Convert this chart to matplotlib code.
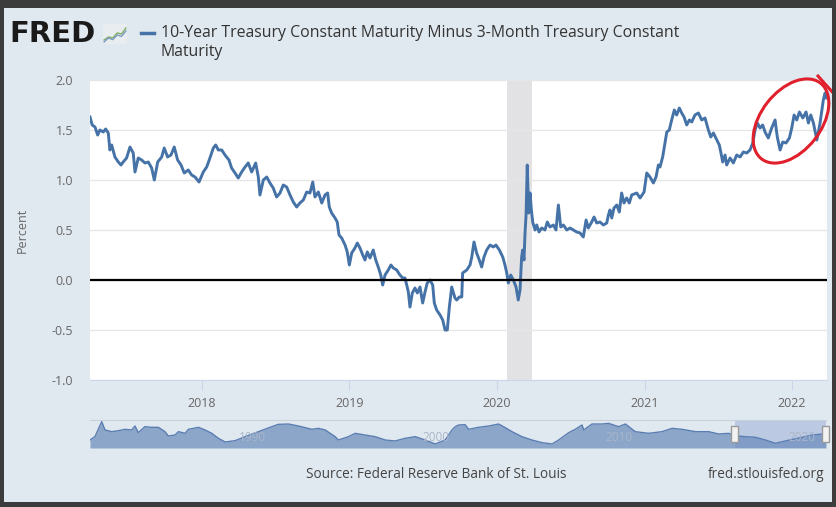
import matplotlib
matplotlib.use("Agg")
import matplotlib.pyplot as plt
from matplotlib.patches import Rectangle, Ellipse
from matplotlib.lines import Line2D
import matplotlib.transforms as mtransforms

plt.rcParams["font.family"] = ["Open Sans", "DejaVu Sans"]
plt.rcParams["axes.unicode_minus"] = False

# 10Y minus 3M spread (decimal year, percent)
years = [
    2017.241, 2017.256, 2017.275, 2017.293, 2017.308, 2017.331, 2017.347, 2017.365,
    2017.376, 2017.388, 2017.410, 2017.433, 2017.451, 2017.466, 2017.489, 2017.512,
    2017.534, 2017.546, 2017.568, 2017.591, 2017.614, 2017.636, 2017.659, 2017.677,
    2017.700, 2017.727, 2017.744, 2017.767, 2017.790, 2017.812, 2017.835, 2017.858,
    2017.880, 2017.907, 2017.930, 2017.953, 2017.980, 2018.009, 2018.032, 2018.054,
    2018.077, 2018.093, 2018.111, 2018.134, 2018.156, 2018.183, 2018.201, 2018.224,
    2018.246, 2018.269, 2018.292, 2018.314, 2018.337, 2018.364, 2018.382, 2018.393,
    2018.416, 2018.439, 2018.461, 2018.483, 2018.506, 2018.529, 2018.551, 2018.574,
    2018.597, 2018.619, 2018.642, 2018.664, 2018.687, 2018.710, 2018.732, 2018.751,
    2018.766, 2018.789, 2018.812, 2018.834, 2018.852, 2018.863, 2018.879, 2018.902,
    2018.917, 2018.929, 2018.947, 2018.970, 2018.985, 2018.999, 2019.015, 2019.037,
    2019.053, 2019.071, 2019.090, 2019.105, 2019.121, 2019.139, 2019.161, 2019.178,
    2019.195, 2019.212, 2019.225, 2019.241, 2019.263, 2019.281, 2019.297, 2019.320,
    2019.342, 2019.361, 2019.376, 2019.388, 2019.399, 2019.410, 2019.426, 2019.444,
    2019.460, 2019.478, 2019.496, 2019.512, 2019.527, 2019.546, 2019.564, 2019.575,
    2019.591, 2019.614, 2019.632, 2019.648, 2019.663, 2019.677, 2019.693, 2019.715,
    2019.727, 2019.744, 2019.761, 2019.767, 2019.795, 2019.817, 2019.829, 2019.844,
    2019.862, 2019.880, 2019.896, 2019.912, 2019.930, 2019.953, 2019.975, 2019.993,
    2020.016, 2020.039, 2020.054, 2020.066, 2020.077, 2020.093, 2020.111, 2020.129,
    2020.144, 2020.156, 2020.167, 2020.174, 2020.183, 2020.190, 2020.197, 2020.205,
    2020.215, 2020.224, 2020.233, 2020.242, 2020.258, 2020.269, 2020.285, 2020.303,
    2020.325, 2020.341, 2020.359, 2020.382, 2020.400, 2020.416, 2020.432, 2020.450,
    2020.473, 2020.495, 2020.517, 2020.540, 2020.563, 2020.585, 2020.604, 2020.619,
    2020.642, 2020.658, 2020.676, 2020.698, 2020.721, 2020.744, 2020.755, 2020.766,
    2020.778, 2020.793, 2020.812, 2020.829, 2020.845, 2020.861, 2020.879, 2020.897,
    2020.913, 2020.947, 2020.970, 2020.997, 2021.015, 2021.037, 2021.060, 2021.078,
    2021.094, 2021.105, 2021.123, 2021.139, 2021.151, 2021.168, 2021.184, 2021.202,
    2021.218, 2021.236, 2021.252, 2021.268, 2021.286, 2021.304, 2021.320, 2021.342,
    2021.365, 2021.388, 2021.410, 2021.433, 2021.449, 2021.467, 2021.490, 2021.507,
    2021.517, 2021.530, 2021.546, 2021.557, 2021.580, 2021.602, 2021.625, 2021.648,
    2021.670, 2021.693, 2021.715, 2021.734, 2021.749, 2021.765, 2021.783, 2021.801,
    2021.817, 2021.839, 2021.862, 2021.885, 2021.900, 2021.919, 2021.937, 2021.959,
    2021.982, 2021.998, 2022.014, 2022.032, 2022.050, 2022.073, 2022.095, 2022.111,
    2022.127, 2022.145, 2022.168, 2022.190, 2022.212, 2022.224, 2022.235,
]
spread = [
    1.63, 1.55, 1.53, 1.45, 1.50, 1.48, 1.51, 1.47,
    1.30, 1.35, 1.23, 1.18, 1.15, 1.18, 1.22, 1.33,
    1.27, 1.08, 1.22, 1.20, 1.17, 1.18, 1.12, 1.00,
    1.18, 1.23, 1.32, 1.23, 1.25, 1.33, 1.20, 1.15,
    1.07, 1.10, 1.05, 1.03, 0.98, 1.08, 1.13, 1.22,
    1.32, 1.35, 1.30, 1.30, 1.25, 1.20, 1.12, 1.07,
    1.02, 1.08, 1.13, 1.17, 1.08, 1.17, 1.03, 0.85,
    1.00, 1.03, 0.97, 0.92, 0.83, 0.87, 0.95, 0.93,
    0.85, 0.78, 0.73, 0.77, 0.80, 0.88, 0.87, 0.98,
    0.83, 0.88, 0.77, 0.85, 0.87, 0.73, 0.67, 0.62,
    0.58, 0.45, 0.42, 0.35, 0.28, 0.15, 0.27, 0.32,
    0.37, 0.32, 0.25, 0.20, 0.28, 0.22, 0.30, 0.20,
    0.13, 0.05, -0.05, 0.05, 0.10, 0.15, 0.12, 0.10,
    0.05, 0.02, 0.02, -0.05, -0.12, -0.27, -0.13, -0.08,
    -0.13, -0.07, -0.23, -0.12, -0.03, 0.00, -0.05, -0.23,
    -0.30, -0.35, -0.40, -0.50, -0.50, -0.27, -0.07, -0.18,
    -0.20, -0.17, -0.17, 0.07, 0.10, 0.15, 0.23, 0.38,
    0.27, 0.20, 0.13, 0.23, 0.30, 0.35, 0.33, 0.35,
    0.30, 0.23, 0.15, 0.07, -0.03, 0.05, 0.00, -0.07,
    -0.20, -0.10, 0.23, 0.30, 0.20, 0.47, 0.65, 1.15,
    0.67, 0.87, 0.70, 0.58, 0.50, 0.55, 0.48, 0.52,
    0.50, 0.58, 0.53, 0.55, 0.50, 0.75, 0.53, 0.55,
    0.50, 0.52, 0.50, 0.48, 0.47, 0.43, 0.60, 0.52,
    0.58, 0.63, 0.57, 0.58, 0.55, 0.57, 0.65, 0.70,
    0.62, 0.72, 0.75, 0.68, 0.87, 0.77, 0.82, 0.77,
    0.85, 0.87, 0.82, 0.88, 1.07, 1.03, 0.97, 1.03,
    1.15, 1.13, 1.23, 1.37, 1.48, 1.50, 1.60, 1.70,
    1.65, 1.72, 1.67, 1.63, 1.55, 1.60, 1.58, 1.65,
    1.67, 1.60, 1.62, 1.50, 1.43, 1.47, 1.40, 1.35,
    1.28, 1.18, 1.25, 1.15, 1.22, 1.17, 1.25, 1.23,
    1.28, 1.27, 1.30, 1.37, 1.50, 1.57, 1.52, 1.55,
    1.48, 1.42, 1.52, 1.60, 1.43, 1.30, 1.38, 1.37,
    1.42, 1.52, 1.65, 1.60, 1.68, 1.62, 1.68, 1.57,
    1.65, 1.57, 1.40, 1.57, 1.80, 1.87, 1.82,
]

# recession shading (2020)
recession_start = 2020.07
recession_end = 2020.24

# navigator: full history, coarse reading
nav_years = [
    1982.00, 1982.27, 1982.64, 1982.82, 1983.19, 1983.55, 1983.91, 1984.28,
    1984.46, 1984.64, 1985.00, 1985.37, 1985.74, 1986.10, 1986.28, 1986.65,
    1986.83, 1987.20, 1987.38, 1987.93, 1988.29, 1988.66, 1989.02, 1989.39,
    1989.93, 1990.48, 1991.21, 1991.94, 1992.30, 1992.85, 1993.40, 1994.13,
    1994.49, 1994.86, 1995.40, 1995.58, 1996.13, 1996.50, 1997.04, 1997.59,
    1998.14, 1998.68, 1999.23, 1999.78, 2000.33, 2000.87, 2001.42, 2001.79,
    2001.97, 2002.15, 2002.51, 2002.70, 2003.24, 2003.79, 2004.34, 2004.61,
    2005.07, 2005.61, 2006.16, 2006.71, 2007.26, 2007.62, 2008.17, 2008.53,
    2008.90, 2008.99, 2009.44, 2009.99, 2010.35, 2010.90, 2011.27, 2011.81,
    2012.54, 2013.27, 2013.82, 2014.37, 2015.10, 2015.82, 2016.37, 2016.92,
    2017.34, 2017.83, 2018.38, 2018.93, 2019.47, 2020.02, 2020.39, 2020.93,
    2021.48, 2022.03, 2022.237,
]
nav_spread = [
    0.57, 1.23, 4.17, 2.54, 2.21, 2.40, 2.67, 2.54,
    3.32, 2.01, 3.19, 3.06, 3.06, 2.21, 1.36, 1.55,
    2.21, 1.88, 2.67, 3.06, 2.54, 1.88, 0.90, 0.18,
    0.44, 1.23, 2.21, 3.19, 3.65, 3.71, 3.32, 2.67,
    2.86, 2.54, 1.23, 0.57, 1.23, 1.88, 1.55, 1.23,
    0.57, 0.38, 0.90, 1.23, 0.57, -0.21, 0.57, 2.54,
    3.19, 3.52, 3.58, 2.67, 3.06, 3.32, 3.71, 3.19,
    2.21, 1.23, 0.57, 0.05, -0.21, 0.57, 2.01, 2.67,
    3.52, 2.54, 3.71, 3.71, 3.84, 3.19, 3.71, 2.21,
    1.88, 2.21, 2.86, 2.67, 2.21, 2.21, 1.75, 1.88,
    1.36, 1.23, 1.10, 0.57, -0.08, 0.38, 0.70, 1.10,
    1.55, 1.75, 1.88,
]

x_ticks = [2018, 2019, 2020, 2021, 2022]
y_ticks = [-1.0, -0.5, 0.0, 0.5, 1.0, 1.5, 2.0]
nav_ticks = [1990, 2000, 2010, 2020]

# small logo sparkline
logo_a = [0.2, 0.35, 0.3, 0.55, 0.5, 0.8]
logo_b = [0.1, 0.3, 0.22, 0.45, 0.38, 0.65]

BG = "#e1e9f0"
BLUE = "#4572a7"
W, H = 837, 507

fig = plt.figure(figsize=(W / 100, H / 100), dpi=100, facecolor=BG)


def fx(px):
    return px / W


def fy(py):
    return 1 - py / H


# main chart
ax = fig.add_axes([fx(90), fy(380), fx(827) - fx(90), fy(80) - fy(380)])
ax.set_facecolor("white")
ax.axvspan(recession_start, recession_end, color="#e2e2e4", lw=0, zorder=0)
ax.plot(years, spread, color=BLUE, lw=2.1, zorder=3, solid_joinstyle="round")
ax.axhline(0, color="black", lw=1.6, zorder=4)
ax.set_xlim(years[0], years[-1] + 0.002)
ax.set_ylim(-1.0, 2.0)
ax.set_xticks(x_ticks)
ax.set_xticklabels([str(t) for t in x_ticks])
ax.set_yticks(y_ticks)
ax.set_yticklabels([f"{t:.1f}" for t in y_ticks])
ax.grid(axis="y", color="#e6e6e6", lw=1, zorder=1)
ax.set_axisbelow(True)
for s in ["top", "left", "right"]:
    ax.spines[s].set_visible(False)
ax.spines["bottom"].set_color("#ccd6eb")
ax.tick_params(axis="x", colors="#ccd6eb", length=7, pad=5, labelcolor="#666666", labelsize=9)
ax.tick_params(axis="y", length=0, pad=12, labelcolor="#666666", labelsize=9)
fig.text(fx(22), fy(230), "Percent", rotation=90, ha="center", va="center",
         color="#666666", fontsize=9)

# navigator
nav = fig.add_axes([fx(90), fy(448), fx(826) - fx(90), fy(420) - fy(448)])
nav.set_facecolor(BG)
nav.fill_between(nav_years, nav_spread, -1.0, color="#8ca6ca", lw=0)
nav.plot(nav_years, nav_spread, color="#5a7db2", lw=1.0)
nav.set_xlim(1982.0, 2022.237)
nav.set_ylim(-1.0, 4.5)
nav.axvspan(years[0], years[-1], color="#6685c2", alpha=0.3, lw=0)
nav.set_xticks([])
nav.set_yticks([])
for s in ["left", "right", "bottom"]:
    nav.spines[s].set_visible(False)
nav.spines["top"].set_color("#c8d0da")
lab_tr = mtransforms.offset_copy(nav.get_xaxis_transform(), fig=fig, x=3, y=0, units="dots")
for t in nav_ticks:
    nav.text(t, 0.38, str(t), transform=lab_tr, ha="left", va="center",
             fontsize=8.5, color="#a9b6c9")

# navigator handles
for xr in [years[0], years[-1]]:
    xd = nav.transData.transform((xr, 0))[0]
    yc = H - 434
    fig.patches.append(Rectangle((xd - 3.5, yc - 8), 7, 16, transform=mtransforms.IdentityTransform(),
                                 facecolor="#f2f2f2", edgecolor="#999999", lw=1, zorder=10))
    for dx in (-1.2, 1.2):
        fig.lines.append(Line2D([xd + dx, xd + dx], [yc - 4, yc + 4],
                                transform=mtransforms.IdentityTransform(), color="#777777", lw=0.8))

# header: logo + series title
fig.text(fx(9), fy(34), "FRED", ha="left", va="center", fontsize=21, fontweight="bold",
         color="#1a1a1a", family=["DejaVu Sans"])
logo = fig.add_axes([fx(103), fy(44), fx(127) - fx(103), fy(24) - fy(44)])
logo.set_facecolor("#e9edf0")
logo.plot(range(len(logo_a)), logo_a, color="#7fae63", lw=1.0)
logo.plot(range(len(logo_b)), logo_b, color="#7d9cc8", lw=1.0)
logo.set_ylim(0, 1)
logo.set_xticks([])
logo.set_yticks([])
for s in logo.spines.values():
    s.set_visible(False)

fig.lines.append(Line2D([fx(141), fx(154)], [fy(33), fy(33)], transform=fig.transFigure,
                        color=BLUE, lw=2.5))
fig.text(fx(161), fy(33), "10-Year Treasury Constant Maturity Minus 3-Month Treasury Constant",
         ha="left", va="center", fontsize=11.4, color="#333333")
fig.text(fx(161), fy(52), "Maturity", ha="left", va="center", fontsize=11.4, color="#333333")

# footer
fig.text(fx(436), fy(475), "Source: Federal Reserve Bank of St. Louis", ha="center", va="center",
         fontsize=9.8, color="#444444")
fig.text(fx(824), fy(475), "fred.stlouisfed.org", ha="right", va="center",
         fontsize=9.8, color="#444444")

# red hand-drawn circle
fig.patches.append(Ellipse((7.91, (H - 121) / 100), 0.96, 0.60, angle=52,
                           transform=fig.dpi_scale_trans, fill=False,
                           edgecolor="#e0202c", lw=2.2, zorder=20))
fig.lines.append(Line2D([8.18, 8.35], [(H - 76) / 100, (H - 95) / 100],
                        transform=fig.dpi_scale_trans, color="#e0202c", lw=2.2, zorder=20))

# dark screen border
dark = "#3c3c3c"
for rect in [(0, fy(8), 1, 1 - fy(8)), (0, 0, fx(4), 1), (fx(832), 0, 1 - fx(832), 1),
             (0, 0, 1, 5 / H)]:
    fig.patches.append(Rectangle(rect[:2], rect[2], rect[3], transform=fig.transFigure,
                                 facecolor=dark, edgecolor="none", zorder=30))

fig.savefig("out.png", dpi=100, facecolor=BG)
